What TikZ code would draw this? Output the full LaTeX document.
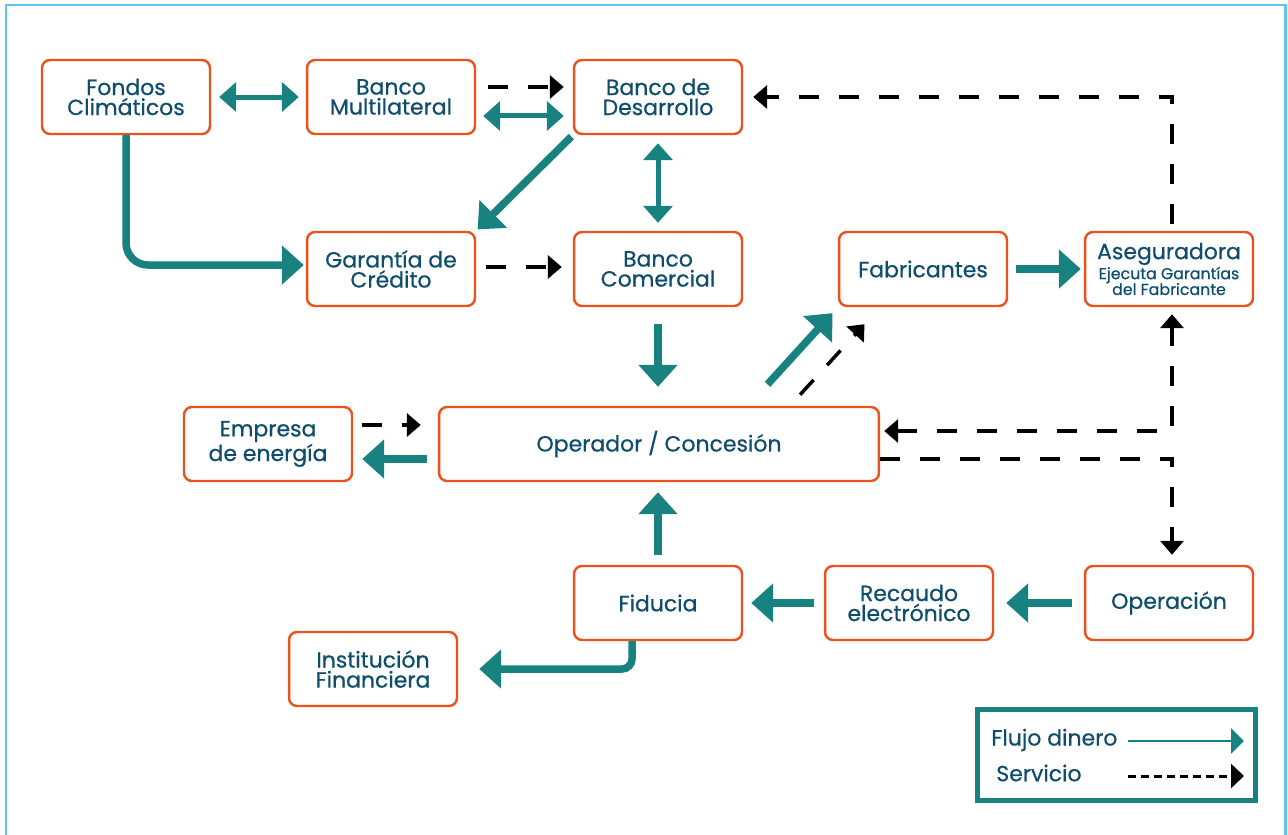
\documentclass[tikz,border=0pt]{standalone}
\usepackage{fontspec}
\setmainfont{Poppins}[FakeBold=0.6]
\usetikzlibrary{arrows.meta}
\definecolor{boxorange}{HTML}{E8531E}
\definecolor{flowteal}{HTML}{17827F}
\definecolor{labelblue}{HTML}{0E4D6B}
\definecolor{frameblue}{HTML}{5CC6F2}

\begin{document}
\begin{tikzpicture}[x=0.02cm, y=-0.02cm,
	entity/.style={draw=boxorange, line width=1.4pt, rounded corners=0.16cm, fill=white, text=labelblue, minimum width=3.36cm, minimum height=1.48cm, align=center, inner sep=0pt, font=\fontsize{12.5}{11.4}\selectfont},
	money/.style={draw=flowteal, line width=0.15cm, -{Triangle[length=0.44cm,width=0.76cm]}},
	moneyboth/.style={draw=flowteal, line width=0.1cm, {Triangle[length=0.34cm,width=0.58cm]}-{Triangle[length=0.34cm,width=0.58cm]}},
	service/.style={draw=black, line width=0.07cm, dash pattern=on 0.4cm off 0.4cm, -{Triangle[length=0.28cm,width=0.46cm]}},
	serviceboth/.style={service, {Triangle[length=0.28cm,width=0.46cm]}-{Triangle[length=0.28cm,width=0.46cm]}},
	legendtxt/.style={anchor=west, inner sep=0pt, text=labelblue, font=\fontsize{12.5}{11.4}\selectfont}]
	\useasboundingbox (0,0) rectangle (1288,835);
	\draw[frameblue, line width=0.06cm] (6,5) rectangle (1285.5,870);

	% row 1
	\node[entity] (fc) at (126,97) {Fondos\\Climáticos};
	\node[entity] (bm) at (391,97) {Banco\\Multilateral};
	\node[entity] (bd) at (658,97) {Banco de\\Desarrollo};
	% row 2
	\node[entity] (gc) at (391,269) {Garantía de\\Crédito};
	\node[entity] (bc) at (658,269) {Banco\\Comercial};
	\node[entity] (fab) at (923,269) {Fabricantes};
	\node[entity] (as) at (1169,269) {Aseguradora\\{\fontsize{9}{9}\selectfont Ejecuta Garantías}\\[-2.4pt]{\fontsize{9}{9}\selectfont del Fabricante}};
	% row 3
	\node[entity] (ee) at (268,444) {Empresa\\de energía};
	\node[entity, minimum width=8.8cm] (op) at (659,444) {Operador / Concesión};
	% row 4
	\node[entity] (fid) at (658,603) {Fiducia};
	\node[entity] (rec) at (909,603) {Recaudo\\electrónico};
	\node[entity] (opn) at (1169,603) {Operación};
	\node[entity] (inst) at (373,669) {Institución\\Financiera};

	% banks
	\draw[moneyboth, shorten <=0.16cm, shorten >=0.14cm] (fc) -- (bm);
	\draw[service, shorten <=0.24cm, shorten >=0.18cm] ([yshift=0.2cm]bm.east) -- ([yshift=0.2cm]bd.west);
	\draw[moneyboth, shorten <=0.14cm, shorten >=0.18cm] ([yshift=-0.38cm]bm.east) -- ([yshift=-0.38cm]bd.west);
	\draw[money, shorten <=0.04cm, shorten >=0.04cm] (bd.south west) -- (gc.north east);
	\draw[moneyboth, shorten <=0.16cm, shorten >=0.16cm] (bd) -- (bc);
	\draw[money, rounded corners=0.44cm, shorten >=0.04cm] (fc.south) |- ([yshift=0.08cm]gc.west);
	\draw[service, shorten <=0.2cm, shorten >=0.22cm] ([yshift=0.04cm]gc.east) -- ([yshift=0.04cm]bc.west);
	\draw[money, shorten <=0.34cm, shorten >=0.38cm] (bc.south) -- (bc.south |- op.north);

	% operador
	\draw[money, shorten <=0.58cm, shorten >=0.16cm] ([xshift=1.78cm]op.north) -- (fab.south west);
	\draw[service, shorten <=0.3cm, shorten >=0.46cm] ([xshift=2.62cm]op.north) -- ([xshift=-0.86cm]fab.south);
	\draw[money, shorten <=0.16cm, shorten >=0.06cm] (fab) -- (as);
	\draw[service, shorten <=0.14cm, shorten >=0.2cm] ([xshift=0.06cm]as.north) |- (bd.east);
	\draw[serviceboth, shorten <=0.08cm, shorten >=0.14cm] ([yshift=0.26cm]op.east) -| ([xshift=0.06cm]as.south);
	\draw[service, shorten >=0.2cm] ([yshift=-0.3cm]op.east) -| ([xshift=0.06cm]opn.north);
	\draw[service, shorten <=0.18cm, shorten >=0.34cm] ([yshift=0.38cm]ee.east) -- ([yshift=0.38cm]op.west);
	\draw[money, shorten <=0.22cm, shorten >=0.18cm] ([yshift=-0.3cm]op.west) -- ([yshift=-0.3cm]ee.east);

	% recaudo
	\draw[money, shorten <=0.2cm, shorten >=0.2cm] (fid.north) -- (fid.north |- op.south);
	\draw[money, shorten <=0.2cm, shorten >=0.16cm] (rec) -- (fid);
	\draw[money, shorten <=0.24cm, shorten >=0.24cm] (opn) -- (rec);
	\draw[money, rounded corners=0.2cm, shorten >=0.42cm] ([xshift=-0.52cm]fid.south) |- (inst.east);

	% legend
	\node[draw=flowteal, line width=0.1cm, minimum width=5.56cm, minimum height=1.82cm, inner sep=0pt] (legend) at (1116.5,755) {};
	\node[legendtxt] (flujo) at (991,740) {Flujo dinero};
	\node[legendtxt] (servicio) at (996,773) {Servicio};
	\coordinate (flujoA) at (1128,741);
	\coordinate (flujoB) at (1244,741);
	\coordinate (servA) at (1128,776);
	\coordinate (servB) at (1244,776);
	\draw[draw=flowteal, line width=0.055cm, -{Triangle[length=0.26cm,width=0.5cm]}] (flujoA) -- (flujoB);
	\draw[draw=black, line width=0.06cm, dash pattern=on 0.16cm off 0.1cm, -{Triangle[length=0.26cm,width=0.48cm]}] (servA) -- (servB);
\end{tikzpicture}
\end{document}
